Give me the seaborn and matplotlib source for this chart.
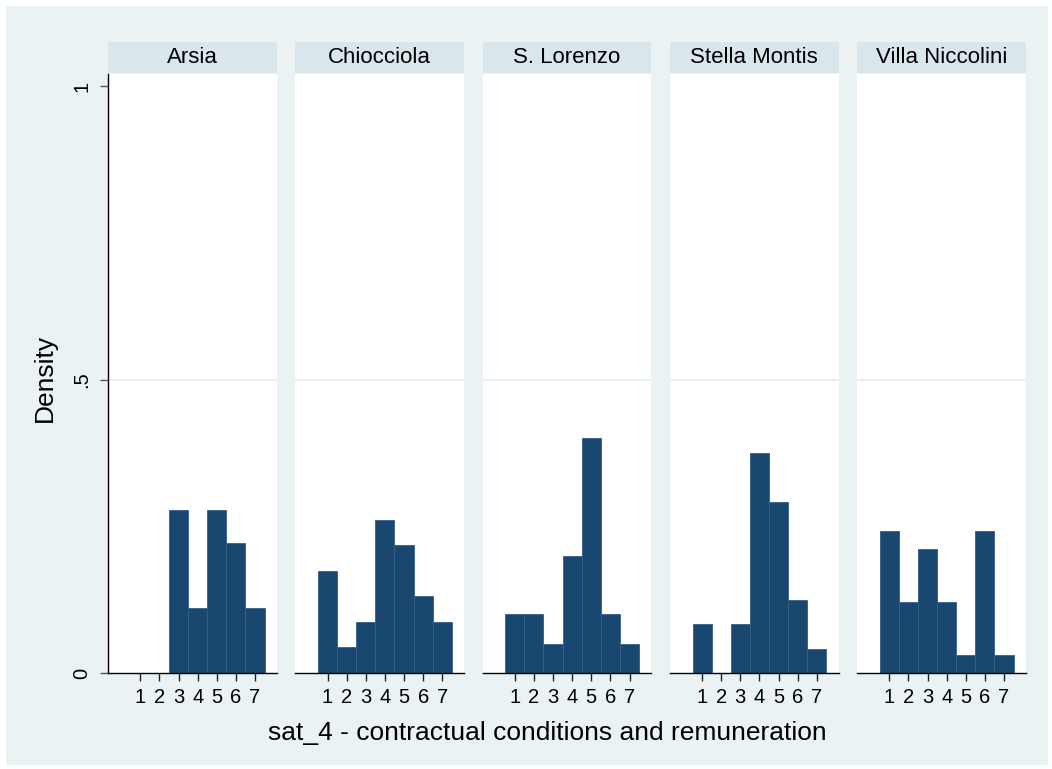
import matplotlib
matplotlib.use("Agg")
import matplotlib.pyplot as plt
from matplotlib.patches import Rectangle
import pandas as pd
import seaborn as sns

# Response counts on the 1-7 satisfaction scale, per site
sites = ["Arsia", "Chiocciola", "S. Lorenzo", "Stella Montis", "Villa Niccolini"]
levels = [1, 2, 3, 4, 5, 6, 7]
counts_arsia = [0, 0, 5, 2, 5, 4, 2]
counts_chiocciola = [4, 1, 2, 6, 5, 3, 2]
counts_slorenzo = [2, 2, 1, 4, 8, 2, 1]
counts_stella = [2, 0, 2, 9, 7, 3, 1]
counts_villa = [8, 4, 7, 4, 1, 8, 1]

y_ticks = [0, 0.5, 1]
y_ticklabels = ["0", ".5", "1"]
x_title = "sat_4 - contractual conditions and remuneration"
y_title = "Density"

rows = []
for site, cnts in zip(sites, [counts_arsia, counts_chiocciola, counts_slorenzo,
                              counts_stella, counts_villa]):
    for lv, c in zip(levels, cnts):
        if c > 0:
            rows.append({"site": site, "level": lv, "count": c})
df = pd.DataFrame(rows)

sns.set_theme(style="white")
plt.rcParams["font.family"] = ["Liberation Sans", "DejaVu Sans"]
plt.rcParams["text.color"] = "black"
plt.rcParams["xtick.color"] = "black"
plt.rcParams["ytick.color"] = "black"
plt.rcParams["xtick.labelcolor"] = "black"
plt.rcParams["ytick.labelcolor"] = "black"

BG = "#EAF2F3"
STRIP = "#D9E6EB"
BAR = "#1A476F"

W, H = 1052, 769
fig, axes = plt.subplots(1, 5, figsize=(W / 100, H / 100), dpi=100, sharey=True)
fig.patch.set_facecolor("white")
fig.patches.append(Rectangle((6 / W, 4 / H), (W - 10) / W, (H - 10) / H,
                             transform=fig.transFigure, facecolor=BG,
                             edgecolor="none", zorder=-10))
fig.subplots_adjust(left=108 / W, right=1026 / W, top=1 - 74 / H,
                    bottom=1 - 673 / H, wspace=0.108)

ymax = 1.0213
for i, (ax, site) in enumerate(zip(axes, sites)):
    sub = df[df["site"] == site]
    ax.set_facecolor("white")
    ax.axhline(0.5, color="#E6ECEE", lw=1.2, zorder=0)
    sns.histplot(data=sub, x="level", weights="count", discrete=True,
                 stat="density", ax=ax, color=BAR, edgecolor="#34608A",
                 linewidth=0.6, alpha=1, zorder=2)
    ax.set_xlim(-0.69, 8.15)
    ax.set_ylim(0, ymax)
    ax.set_xticks(levels)
    ax.set_xticklabels([str(v) for v in levels], fontsize=14.5, color="black")
    ax.tick_params(axis="x", direction="out", length=6, width=1,
                   color="#222222", pad=5, bottom=True)
    ax.set_xlabel("")
    ax.set_ylabel("")
    for s in ["top", "right"]:
        ax.spines[s].set_visible(False)
    ax.spines["bottom"].set_color("black")
    ax.spines["bottom"].set_linewidth(1)
    if i == 0:
        ax.spines["left"].set_color("black")
        ax.spines["left"].set_linewidth(1)
        ax.set_yticks(y_ticks)
        ax.set_yticklabels(y_ticklabels, fontsize=14.5, rotation=90,
                           va="center", color="black")
        ax.tick_params(axis="y", direction="out", length=6, width=1,
                       color="#555555", pad=6, left=True)
    else:
        ax.spines["left"].set_visible(False)
        ax.tick_params(axis="y", left=False)
    # facet header
    ax.add_patch(Rectangle((0, 1.0017), 1, 0.0518, transform=ax.transAxes,
                           facecolor=STRIP, edgecolor="none", clip_on=False))
    ax.text(0.5, 1.0017 + 0.0259, site, transform=ax.transAxes,
            ha="center", va="center", fontsize=16, color="black")

fig.text(547 / W, 1 - 733 / H, x_title, ha="center", va="center",
         fontsize=19, color="black")
fig.text(45 / W, 1 - 378 / H, y_title, ha="center", va="center",
         rotation=90, fontsize=19, color="black")

fig.savefig("out.png", dpi=100, facecolor=fig.get_facecolor())
